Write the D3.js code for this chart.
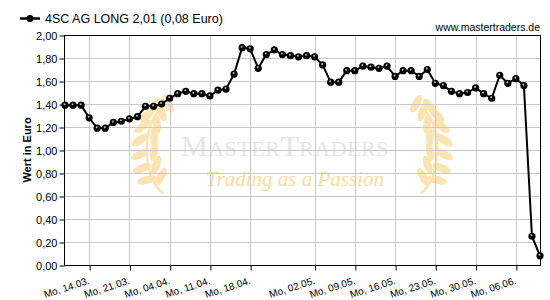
<!DOCTYPE html>
<html><head><meta charset="utf-8">
<script src="https://cdn.jsdelivr.net/npm/d3@7/dist/d3.min.js"></script>
<style>body{margin:0;background:#fff}svg{display:block}</style>
</head><body>
<svg id="c" width="550" height="300"></svg>
<script>
const title = "4SC AG LONG 2,01 (0,08 Euro)";
const source = "www.mastertraders.de";
const yTitle = "Wert in Euro";
const values = [1.39,1.39,1.39,1.28,1.19,1.19,1.24,1.25,1.27,1.29,
  1.38,1.38,1.40,1.45,1.49,1.51,1.49,1.49,1.47,1.52,
  1.53,1.66,1.89,1.88,1.71,1.83,1.87,1.83,1.82,1.81,
  1.82,1.81,1.74,1.59,1.59,1.69,1.69,1.73,1.72,1.71,
  1.73,1.64,1.69,1.69,1.64,1.70,1.58,1.56,1.51,1.49,
  1.50,1.54,1.49,1.45,1.65,1.58,1.62,1.56,0.25,0.08];
const tickIdx = [3,8,13,18,23,31,36,41,46,51,56];
const tickLabels = ["Mo, 14.03.","Mo, 21.03.","Mo, 04.04.","Mo, 11.04.","Mo, 18.04.","Mo, 02.05.","Mo, 09.05.","Mo, 16.05.","Mo, 23.05.","Mo, 30.05.","Mo, 06.06."];
const yTicks = [0,0.2,0.4,0.6,0.8,1.0,1.2,1.4,1.6,1.8,2.0];

const svg = d3.select("#c");
const L=65, R=540, T=35, B=265;
const x = d3.scaleLinear().domain([0, values.length-1]).range([L, R]);
const y = d3.scaleLinear().domain([0, 2]).range([B, T]);
const font = "'Liberation Sans', Arial, sans-serif";
const fmt = v => v.toFixed(2).replace(".", ",");

svg.append("rect").attr("width",550).attr("height",300).attr("fill","#fff");

// watermark
const wm = svg.append("g");
const leaf = "#fbe4b2";
function laurel(cx, cy, dir) {
  const g = wm.append("g").attr("transform",`translate(${cx},${cy}) scale(${dir},1)`);
  const r = 46;
  const stem = [];
  for (let k=0;k<=20;k++){ const t=(-70+k*7)*Math.PI/180; stem.push([-r*Math.cos(t)*0.55, r*Math.sin(t)]); }
  g.append("path").attr("d", d3.line()(stem)).attr("fill","none").attr("stroke",leaf).attr("stroke-width",2.5);
  for (let k=0;k<7;k++){
    const t=(-64+k*18)*Math.PI/180;
    const px=-r*Math.cos(t)*0.55, py=r*Math.sin(t);
    g.append("ellipse").attr("cx",px-7).attr("cy",py-2).attr("rx",10).attr("ry",4)
      .attr("transform",`rotate(${-50+k*6},${px-7},${py-2})`).attr("fill",leaf);
    g.append("ellipse").attr("cx",px+7).attr("cy",py-5).attr("rx",10).attr("ry",4)
      .attr("transform",`rotate(${-120+k*10},${px+7},${py-5})`).attr("fill",leaf);
  }
}
laurel(172, 150, 1);
laurel(412, 150, -1);
const wt = wm.append("text").attr("x",285).attr("y",156).attr("text-anchor","middle")
  .attr("font-family","'Liberation Serif', 'DejaVu Serif', serif")
  .attr("fill","#e6e6e6").attr("letter-spacing",0.5);
[["M",30],["ASTER",22],["T",30],["RADERS",22]].forEach(([s,fs])=>wt.append("tspan").attr("font-size",fs).text(s));
wm.append("text").attr("x",295).attr("y",186).attr("text-anchor","middle")
  .attr("font-family","'Liberation Serif', serif").attr("font-style","italic").attr("font-size",21)
  .attr("fill","#f9dca0").text("Trading as a Passion");

// grid
svg.append("g").selectAll("line.h").data(yTicks).join("line")
  .attr("x1",L).attr("x2",R).attr("y1",d=>Math.round(y(d))+0.5).attr("y2",d=>Math.round(y(d))+0.5)
  .attr("stroke","#c8c8c8");
svg.append("g").selectAll("line.v").data(tickIdx).join("line")
  .attr("x1",d=>Math.round(x(d))+0.5).attr("x2",d=>Math.round(x(d))+0.5).attr("y1",T).attr("y2",B)
  .attr("stroke","#c8c8c8");

// frame
svg.append("rect").attr("x",L-0.5).attr("y",T+0.5).attr("width",R-L+1).attr("height",B-T)
  .attr("fill","none").attr("stroke","#000");

// y axis
const ya = svg.append("g").attr("transform",`translate(${L-0.5},0.5)`)
  .call(d3.axisLeft(y).tickValues(yTicks).tickFormat(fmt).tickSize(5).tickPadding(2).tickSizeOuter(0));
ya.select(".domain").remove();
ya.selectAll("text").attr("font-family",font).attr("font-size",11).attr("fill","#000");

// x axis
const xa = svg.append("g").attr("transform",`translate(0.5,${B+0.5})`)
  .call(d3.axisBottom(x).tickValues(tickIdx).tickFormat((d,i)=>tickLabels[tickIdx.indexOf(d)]).tickSize(5).tickSizeOuter(0));
xa.select(".domain").remove();
xa.selectAll("text").attr("font-family",font).attr("font-size",10).attr("fill","#000")
  .attr("text-anchor","end").attr("y",0).attr("dy",0)
  .attr("transform","translate(0,18) rotate(-18)");

// y title
svg.append("text").attr("transform","translate(31,150) rotate(-90)").attr("text-anchor","middle")
  .attr("font-family",font).attr("font-size",11).attr("font-weight","bold").text(yTitle);

// line
svg.append("path").datum(values)
  .attr("d", d3.line().x((d,i)=>x(i)).y(d=>y(d)))
  .attr("fill","none").attr("stroke","#000").attr("stroke-width",2).attr("stroke-linejoin","round");
const pts = svg.append("g").selectAll("g").data(values).join("g")
  .attr("transform",(d,i)=>`translate(${x(i)},${y(d)})`);
pts.append("circle").attr("r",3.6).attr("fill","#000");
pts.append("circle").attr("r",1).attr("cx",-0.5).attr("cy",-1).attr("fill","#bbb");

// legend / title
svg.append("line").attr("x1",20).attr("x2",40).attr("y1",18.5).attr("y2",18.5).attr("stroke","#000").attr("stroke-width",2.5);
svg.append("circle").attr("cx",30).attr("cy",18.5).attr("r",3.6).attr("fill","#000");
svg.append("text").attr("x",45).attr("y",23).attr("font-family",font).attr("font-size",12.5).text(title);
svg.append("text").attr("x",540).attr("y",31).attr("text-anchor","end").attr("font-family",font).attr("font-size",10.5).text(source);
</script>
</body></html>
